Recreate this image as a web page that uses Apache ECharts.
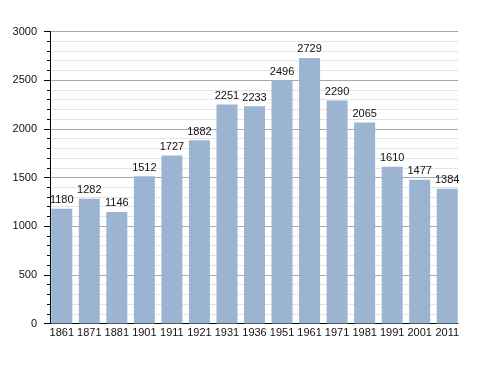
<!DOCTYPE html>
<html>
<head>
<meta charset="utf-8">
<script src="https://cdn.jsdelivr.net/npm/echarts@6/dist/echarts.min.js"></script>
<style>
html,body{margin:0;padding:0;background:#fff;}
#chart{width:488px;height:373px;}
</style>
</head>
<body>
<div id="chart"></div>
<script>
var years = ['1861','1871','1881','1901','1911','1921','1931','1936','1951','1961','1971','1981','1991','2001','2011'];
var population = [1180,1282,1146,1512,1727,1882,2251,2233,2496,2729,2290,2065,1610,1477,1384];
var yTicks = [0,500,1000,1500,2000,2500,3000];

var chart = echarts.init(document.getElementById('chart'), null, {renderer:'canvas'});
var fontFam = '"Liberation Sans", Arial, sans-serif';
var option = {
  animation: false,
  backgroundColor: '#ffffff',
  grid: [
    {left: 50, right: 30, top: 31.5, bottom: 49.5},
    {left: 48, right: 27, top: 31.5, bottom: 49.5}
  ],
  xAxis: [
    {
      type: 'category', gridIndex: 0, data: years,
      axisLine: {show: true, lineStyle: {color: '#000', width: 1}},
      axisTick: {show: false},
      axisLabel: {show: false},
      splitLine: {show: false}
    },
    {
      type: 'category', gridIndex: 1, data: years,
      axisLine: {show: false},
      axisTick: {show: false},
      axisLabel: {show: true, color: '#111', fontSize: 11, fontFamily: fontFam, margin: 4, interval: 0}
    }
  ],
  yAxis: [
    {
      type: 'value', gridIndex: 0, min: yTicks[0], max: yTicks[yTicks.length-1], interval: 500,
      axisLine: {show: true, lineStyle: {color: '#000', width: 1}},
      axisTick: {show: true, length: 6, lineStyle: {color: '#000'}},
      minorTick: {show: true, splitNumber: 5, length: 3, lineStyle: {color: '#000'}},
      axisLabel: {color: '#111', fontSize: 11, fontFamily: fontFam, margin: 13,
        formatter: function (v) { return String(v); }},
      splitLine: {show: true, lineStyle: {color: '#a8a8a8', width: 1}},
      minorSplitLine: {show: true, lineStyle: {color: '#e4e4e4', width: 1}}
    },
    {
      type: 'value', gridIndex: 1, min: yTicks[0], max: yTicks[yTicks.length-1], interval: 500,
      show: false, splitLine: {show: false}
    }
  ],
  series: [{
    type: 'bar',
    xAxisIndex: 1, yAxisIndex: 1,
    data: population,
    barWidth: 21,
    itemStyle: {color: '#9bb4d1'},
    label: {show: true, position: 'top', distance: 3, color: '#111', fontSize: 11, fontFamily: fontFam}
  }]
};
chart.setOption(option);
</script>
</body>
</html>
